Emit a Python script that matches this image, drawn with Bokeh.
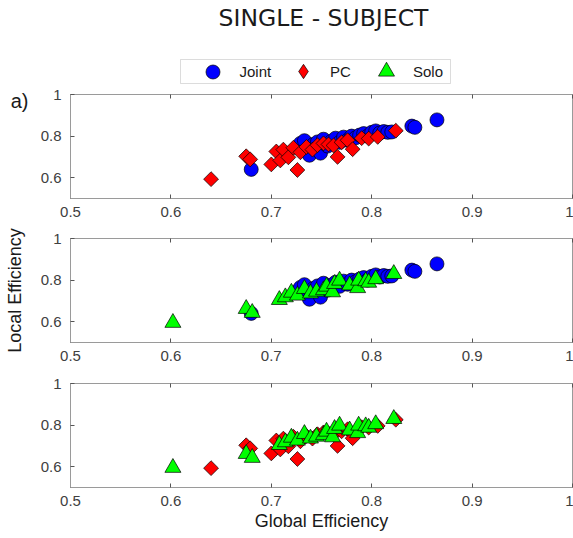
import numpy as np
from bokeh.plotting import figure
from bokeh.layouts import column
from bokeh.models import (ColumnDataSource, FixedTicker, LinearAxis, Label, Legend,
                          LegendItem, BoxAnnotation, Range1d)
from bokeh.embed import file_html
from bokeh.resources import INLINE

# ---------------- data ----------------
series_names = ["Joint", "PC", "Solo"]

joint_x = [0.680, 0.726, 0.729, 0.733, 0.736, 0.738, 0.742, 0.746, 0.749, 0.752,
           0.756, 0.760, 0.764, 0.768, 0.772, 0.776, 0.780, 0.784, 0.788, 0.792,
           0.796, 0.800, 0.804, 0.808, 0.812, 0.816, 0.820, 0.840, 0.843, 0.865]
joint_y = [0.640, 0.745, 0.765, 0.778, 0.730, 0.708, 0.760, 0.772, 0.718, 0.785,
           0.752, 0.775, 0.790, 0.770, 0.795, 0.780, 0.800, 0.792, 0.805, 0.812,
           0.800, 0.818, 0.825, 0.815, 0.822, 0.818, 0.820, 0.848, 0.842, 0.878]

pc_x = [0.640, 0.675, 0.679, 0.700, 0.705, 0.709, 0.712, 0.717, 0.722, 0.726,
        0.729, 0.735, 0.741, 0.746, 0.752, 0.757, 0.762, 0.766, 0.770, 0.776,
        0.781, 0.790, 0.797, 0.806, 0.824]
pc_y = [0.593, 0.703, 0.688, 0.664, 0.726, 0.683, 0.735, 0.698, 0.744, 0.637,
        0.722, 0.748, 0.735, 0.756, 0.765, 0.760, 0.755, 0.700, 0.770, 0.780,
        0.737, 0.790, 0.788, 0.796, 0.826]

solo_x = [0.602, 0.675, 0.681, 0.708, 0.714, 0.720, 0.726, 0.733, 0.739, 0.745,
          0.752, 0.755, 0.761, 0.763, 0.768, 0.778, 0.786, 0.787, 0.794, 0.797,
          0.804, 0.822]
solo_y = [0.595, 0.662, 0.643, 0.705, 0.718, 0.740, 0.726, 0.758, 0.736, 0.745,
          0.752, 0.769, 0.742, 0.782, 0.798, 0.775, 0.762, 0.798, 0.795, 0.788,
          0.805, 0.830]

x_ticks = [0.5, 0.6, 0.7, 0.8, 0.9, 1.0]
x_tick_labels = ["0.5", "0.6", "0.7", "0.8", "0.9", "1"]
y_ticks = [0.6, 0.8, 1.0]
y_tick_labels = ["0.6", "0.8", "1"]

title_text = "SINGLE - SUBJECT"
panel_tag = "a)"
x_label = "Global Efficiency"
y_label = "Local Efficiency"

# ---------------- layout constants (px) ----------------
W = 573
FL, FW, FH = 70, 502, 104          # frame left, width, height
FR = W - FL - FW
FONT = "Liberation Sans"
EDGE = "#9a9a9a"
TICK = "#555555"
TXT = "#1a1a1a"

STY = {
    "Joint": dict(marker="circle", size=14, angle=0.0, fill_color="#0000ff"),
    "PC": dict(marker="square", size=10.5, angle=np.pi / 4, fill_color="#ff0000"),
    "Solo": dict(marker="triangle", size=16, angle=0.0, fill_color="#00ff00"),
}

srcs = {
    "Joint": ColumnDataSource(dict(x=joint_x, y=joint_y)),
    "PC": ColumnDataSource(dict(x=pc_x, y=pc_y)),
    "Solo": ColumnDataSource(dict(x=solo_x, y=solo_y)),
}


def style_axis(ax, ticks, labels, show_labels=True):
    ax.ticker = FixedTicker(ticks=ticks)
    ax.major_label_overrides = dict(zip(ticks, labels))
    ax.minor_tick_line_color = None
    ax.major_tick_in = 4
    ax.major_tick_out = 0
    ax.major_tick_line_color = TICK
    ax.axis_line_color = EDGE
    ax.major_label_text_font = FONT
    ax.major_label_text_font_size = "15px" if show_labels else "0px"
    ax.major_label_text_color = "#404040"
    ax.major_label_standoff = 8 if show_labels else 0
    ax.axis_label_text_font = FONT
    ax.axis_label_text_font_size = "18px"
    ax.axis_label_text_font_style = "normal"
    ax.axis_label_text_color = TXT


def make_panel(height, top, bottom):
    p = figure(width=W, height=height, x_range=Range1d(0.5, 1.0), y_range=Range1d(0.5, 1.0),
               output_backend="svg", toolbar_location=None, tools="",
               min_border_left=FL, min_border_right=FR,
               min_border_top=top, min_border_bottom=bottom)
    p.xgrid.visible = False
    p.ygrid.visible = False
    p.outline_line_color = EDGE
    p.outline_line_width = 1
    p.background_fill_color = "white"
    p.border_fill_color = "white"
    style_axis(p.below[0], x_ticks, x_tick_labels)
    style_axis(p.left[0], y_ticks, y_tick_labels)
    p.left[0].major_label_standoff = 9
    top_ax = LinearAxis()
    style_axis(top_ax, x_ticks, ["" for _ in x_ticks], show_labels=False)
    top_ax.axis_line_color = None
    p.add_layout(top_ax, "above")
    return p


def add_series(p, name, marker=None):
    s = STY[name]
    return p.scatter(x="x", y="y", source=srcs[name], marker=marker or s["marker"],
                     size=s["size"], angle=s["angle"], fill_color=s["fill_color"],
                     line_color="#000000", line_width=0.7)


# ---------------- header (title + legend); data units = page pixels ----------------
HH = 85
header = figure(width=W, height=HH, x_range=Range1d(FL, FL + FW), y_range=Range1d(HH, 0),
                output_backend="svg", toolbar_location=None, tools="",
                x_axis_type=None, y_axis_type=None, min_border=0,
                min_border_left=FL, min_border_right=FR)
header.outline_line_color = None
header.background_fill_color = "white"
header.border_fill_color = "white"

header.add_layout(Label(x=323, y=17, text=title_text, text_align="center",
                        text_baseline="middle", text_font="DejaVu Sans",
                        text_font_size="23.5px", text_color=TXT))

header.add_layout(BoxAnnotation(left=180, right=450, top=59, bottom=83,
                                fill_color="white", fill_alpha=1.0,
                                line_color="#8c8c8c", line_width=1, level="underlay"))

LEG_Y = 71
# (series, glyph centre x, glyph box size, legend marker)
leg_specs = [("Joint", 212, 35, "circle"), ("PC", 303, 36, "diamond"), ("Solo", 386, 40, "triangle")]
for name, cx, g, mk in leg_specs:
    # legend-only renderer: same series, lying outside the header frame (never visible)
    rend = add_series(header, name, marker=mk)
    leg = Legend(items=[LegendItem(label=name, renderers=[rend])],
                 location=(cx - g / 2 - FL, HH - (LEG_Y + g / 2)),
                 glyph_width=g, glyph_height=g, padding=0, margin=0, spacing=0,
                 label_standoff=int(round(27 - g / 2)),
                 label_text_font=FONT, label_text_font_size="15px",
                 label_text_color=TXT, label_text_baseline="middle",
                 background_fill_alpha=0.0, border_line_color=None)
    header.add_layout(leg, "center")

# ---------------- panels ----------------
T1, B1 = 9, 26
T2, B2 = 14, 27
T3, B3 = 14, 51
H1, H2, H3 = T1 + FH + B1, T2 + FH + B2, T3 + FH + B3

p1 = make_panel(H1, T1, B1)
add_series(p1, "Joint")
add_series(p1, "PC")

# panel tag "a)" as an outer left axis carrying a single label
tag_ax = LinearAxis(ticker=FixedTicker(ticks=[0.971]), major_label_overrides={0.971: panel_tag},
                    major_tick_line_color=None, minor_tick_line_color=None, axis_line_color=None,
                    major_label_text_font=FONT, major_label_text_font_size="20px",
                    major_label_text_color=TXT, major_label_standoff=3)
p1.add_layout(tag_ax, "left")

p2 = make_panel(H2, T2, B2)
add_series(p2, "Joint")
add_series(p2, "Solo")
p2.left[0].axis_label = y_label
p2.left[0].axis_label_standoff = 13

p3 = make_panel(H3, T3, B3)
add_series(p3, "PC")
add_series(p3, "Solo")
p3.below[0].axis_label = x_label
p3.below[0].axis_label_standoff = 2

layout = column(header, p1, p2, p3, spacing=0)
open("out.html", "w").write(file_html(layout, INLINE))
